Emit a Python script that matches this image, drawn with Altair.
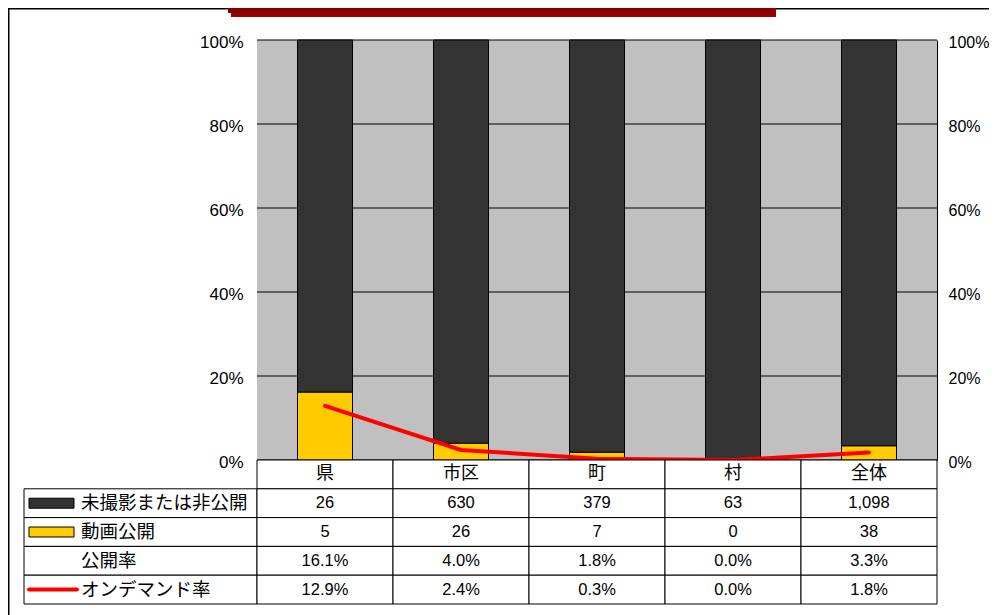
import altair as alt
import pandas as pd

categories = ["県", "市区", "町", "村", "全体"]
unpublished = [26, 630, 379, 63, 1098]
published = [5, 26, 7, 0, 38]
publish_rate = [0.161, 0.040, 0.018, 0.000, 0.033]
ondemand_rate = [0.129, 0.024, 0.003, 0.000, 0.018]
row_names = ["未撮影または非公開", "動画公開", "公開率", "オンデマンド率"]
axis_values = [0, 0.2, 0.4, 0.6, 0.8, 1.0]

HEADER = "header"
row_keys = [HEADER] + row_names

PW, PH, TH, LW = 680, 420, 144, 233
H = PH + TH
JP = "Noto Sans CJK JP"
NUM = "Liberation Sans"

bars_df = pd.DataFrame({
    "cat": categories * 2,
    "series": [row_names[0]] * 5 + [row_names[1]] * 5,
    "ord": [1] * 5 + [0] * 5,
    "count": unpublished + published,
})
line_df = pd.DataFrame({"cat": categories, "rate": ondemand_rate})
grid_df = pd.DataFrame({"t": axis_values})
bg_df = pd.DataFrame({"lo": [0.0], "hi": [1.0]})

cells = []
for i, c in enumerate(categories):
    cells.append({"cat": c, "row": HEADER, "txt": c, "kind": "hdr"})
    cells.append({"cat": c, "row": row_names[0], "txt": f"{unpublished[i]:,}", "kind": "num"})
    cells.append({"cat": c, "row": row_names[1], "txt": f"{published[i]:,}", "kind": "num"})
    cells.append({"cat": c, "row": row_names[2], "txt": f"{publish_rate[i]*100:.1f}%", "kind": "num"})
    cells.append({"cat": c, "row": row_names[3], "txt": f"{ondemand_rate[i]*100:.1f}%", "kind": "num"})
cells_df = pd.DataFrame(cells)


def xs():
    return alt.X("cat:N", scale=alt.Scale(domain=categories, paddingInner=0, paddingOuter=0), axis=None)


def yq_scale():
    return alt.Scale(domain=[0, 1], range=[PH, 0], nice=False, zero=False)


def yt_scale():
    return alt.Scale(domain=row_keys, range=[PH, H], paddingInner=0, paddingOuter=0)


def pct_axis(orient, pad, size):
    return alt.Axis(orient=orient, values=axis_values, format=".0%", title=None, ticks=False,
                    grid=False, domain=True, domainColor="black", domainWidth=1,
                    labelFont=NUM, labelFontSize=size, labelColor="black",
                    labelPadding=pad, labelOffset=2)


left_axis = pct_axis("left", 14, 17)
right_axis = pct_axis("right", 11, 16)

# plot background and gridlines (right axis)
bg = alt.Chart(bg_df).mark_rect(color="#C0C0C0").encode(
    y=alt.Y("lo:Q", scale=yq_scale(), axis=right_axis), y2="hi:Q")
grid = alt.Chart(grid_df).mark_rule(color="black", strokeWidth=1).encode(
    y=alt.Y("t:Q", scale=yq_scale(), axis=right_axis))
group_a = alt.layer(bg, grid)

# stacked bars + line (left axis)
bars = alt.Chart(bars_df).mark_bar(width={"band": 55 / 136}, stroke="black", strokeWidth=1).encode(
    x=xs(),
    y=alt.Y("count:Q", stack="normalize", scale=yq_scale(), axis=left_axis),
    color=alt.Color("series:N", scale=alt.Scale(domain=row_names[:2], range=["#333333", "#FFCC00"]), legend=None),
    order=alt.Order("ord:Q"),
)
line = alt.Chart(line_df).mark_line(color="#FF0000", strokeWidth=4, strokeCap="round").encode(
    x=xs(), y=alt.Y("rate:Q", scale=yq_scale(), axis=left_axis))
group_b = alt.layer(bars, line)

# data table
Yt = alt.Y("row:N", scale=yt_scale(), axis=None)
cell_rect = alt.Chart(cells_df).mark_rect(fill="white", stroke="black", strokeWidth=1).encode(x=xs(), y=Yt)
hdr_text = alt.Chart(cells_df).transform_filter(alt.datum.kind == "hdr").mark_text(
    font=JP, fontSize=18, color="black").encode(x=xs(), y=Yt, text="txt:N")
num_text = alt.Chart(cells_df).transform_filter(alt.datum.kind == "num").mark_text(
    font=NUM, fontSize=16.5, color="black").encode(x=xs(), y=Yt, text="txt:N")
group_c = alt.layer(cell_rect, hdr_text, num_text)

deco = alt.Data(values=[{}])
shadow = alt.Chart(deco).mark_rect(color="#9A0000").encode(
    x=alt.value(-26), x2=alt.value(519), y=alt.value(-36), y2=alt.value(-23))
banner = alt.Chart(deco).mark_rect(color="#800000").encode(
    x=alt.value(-29), x2=alt.value(514), y=alt.value(-40), y2=alt.value(-27))

main = alt.layer(group_a, group_b, group_c, shadow, banner).resolve_scale(y="independent").properties(
    width=PW, height=H)

# left label column
Yl = alt.Y("row:N", scale=yt_scale(), axis=None)
l_cells = alt.Chart(pd.DataFrame({"row": row_names})).mark_rect(
    fill="white", stroke="black", strokeWidth=1).encode(y=Yl)
l_text = alt.Chart(pd.DataFrame({"row": row_names})).mark_text(
    align="left", font=JP, fontSize=18.5, color="black").encode(x=alt.value(57), y=Yl, text="row:N")
rect_shape = "M-2.25,-0.5H2.25V0.5H-2.25Z"
line_shape = "M-2.4,0H2.4"
sym_dark = alt.Chart(alt.Data(values=[{"row": row_names[0]}])).mark_point(
    shape=rect_shape, size=400, filled=True, fill="#333333", stroke="black", strokeWidth=1, opacity=1
).encode(x=alt.value(27.5), y=Yl)
sym_yel = alt.Chart(alt.Data(values=[{"row": row_names[1]}])).mark_point(
    shape=rect_shape, size=400, filled=True, fill="#FFCC00", stroke="black", strokeWidth=1, opacity=1
).encode(x=alt.value(27.5), y=Yl)
sym_red = alt.Chart(alt.Data(values=[{"row": row_names[3]}])).mark_point(
    shape=line_shape, size=400, filled=False, stroke="#FF0000", strokeWidth=4, strokeCap="round", opacity=1
).encode(x=alt.value(29), y=Yl)

frame_left = alt.Chart(deco).mark_rule(color="black", strokeWidth=1.5).encode(
    x=alt.value(-15.25), y=alt.value(-31.25), y2=alt.value(H + 20))
frame_top = alt.Chart(deco).mark_rule(color="black", strokeWidth=1.5).encode(
    x=alt.value(-16), x2=alt.value(990), y=alt.value(-31.25))

left = alt.layer(frame_left, frame_top, l_cells, sym_dark, sym_yel, sym_red, l_text).properties(
    width=LW, height=H)

chart = alt.hconcat(left, main, spacing=0, bounds="flush").configure_view(stroke=None).properties(
    autosize=alt.AutoSizeParams(type="none"),
    padding={"left": 16, "top": 32, "right": 965, "bottom": 558})

chart.save("out.html", embed_options={"renderer": "svg", "actions": False})
